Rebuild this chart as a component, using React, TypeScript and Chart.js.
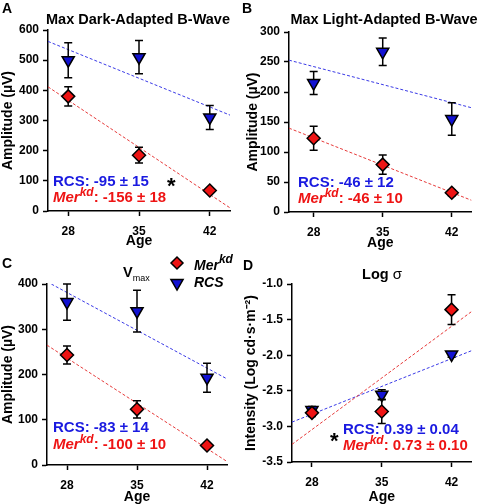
import React, { useEffect, useRef } from 'react';
import { Chart, registerables } from 'chart.js';

Chart.register(...registerables);

// ---------- data ----------
const ages = [28, 35, 42];

// Panel A: Max Dark-Adapted B-Wave (µV)
const aRcs = [500, 510, 310];
const aRcsErr = [58, 55, 40];
const aMer = [380, 185, 68];
const aMerErr = [32, 26, 6];

// Panel B: Max Light-Adapted B-Wave (µV)
const bRcs = [215, 267, 155];
const bRcsErr = [19, 23, 27];
const bMer = [123, 79, 32];
const bMerErr = [20, 16, 5];

// Panel C: Vmax (µV)
const cRcs = [360, 340, 193];
const cRcsErr = [40, 46, 32];
const cMer = [243, 123, 43];
const cMerErr = [20, 19, 5];

// Panel D: Log sigma (Log cd·s·m-2)
const dRcs = [-2.77, -2.555, -1.99];
const dRcsErr = [0.05, 0.07, 0.04];
const dMer = [-2.81, -2.79, -1.36];
const dMerErr = [0.05, 0.17, 0.21];

const slopeLabelsRcs = ['RCS: -95 ± 15', 'RCS: -46 ± 12', 'RCS: -83 ± 14', 'RCS: 0.39 ± 0.04'];
const slopeLabelsMer = [': -156 ± 18', ': -46 ± 10', ': -100 ± 10', ': 0.73 ± 0.10'];

// ---------- styles ----------
const FONT = "'Liberation Sans', Arial, sans-serif";
const BLUE = '#1212d2';
const BLUE_TXT = '#1a1ae0';
const RED = '#ee1414';
const BLUE_LINE = '#3a3ae6';
const RED_LINE = '#e63a3a';

type Seg = { t: string; f: string; c: string; dy?: number };

function drawSegs(ctx: CanvasRenderingContext2D, segs: Seg[], x: number, y: number, align: 'left' | 'center' = 'left') {
  ctx.save();
  ctx.textBaseline = 'middle';
  ctx.textAlign = 'left';
  let total = 0;
  for (const s of segs) {
    ctx.font = s.f;
    total += ctx.measureText(s.t).width;
  }
  let cx = align === 'center' ? x - total / 2 : x;
  for (const s of segs) {
    ctx.font = s.f;
    ctx.fillStyle = s.c;
    ctx.fillText(s.t, cx, y + (s.dy || 0));
    cx += ctx.measureText(s.t).width;
  }
  ctx.restore();
}

function fit(xs: number[], ys: number[]) {
  const n = xs.length;
  const mx = xs.reduce((a, b) => a + b, 0) / n;
  const my = ys.reduce((a, b) => a + b, 0) / n;
  let sxy = 0, sxx = 0;
  for (let i = 0; i < n; i++) {
    sxy += (xs[i] - mx) * (ys[i] - my);
    sxx += (xs[i] - mx) * (xs[i] - mx);
  }
  const m = sxy / sxx;
  return (x: number) => my + m * (x - mx);
}

type PanelCfg = {
  idx: number;
  left: number;
  top: number;
  letter: string;
  letterPos: [number, number];
  title: Seg[];
  titlePos: [number, number];
  titleAlign: 'left' | 'center';
  yMin: number;
  yMax: number;
  yStep: number;
  yDec: number;
  xMin: number;
  xMax: number;
  yTitle: string;
  area: { left: number; right: number; top: number; bottom: number };
  yTitleX: number;
  xTitleY: number;
  rcs: number[];
  rcsErr: number[];
  mer: number[];
  merErr: number[];
  labelX: number;
  rcsLabelY: number;
  merLabelY: number;
  star?: [number, number];
  legend?: boolean;
};

const W = 240;
const H = 252;

const titleFont = `bold 14.5px ${FONT}`;

const panels: PanelCfg[] = [
  {
    idx: 0, left: 0, top: 0, letter: 'A', letterPos: [2, 9],
    title: [{ t: 'Max Dark-Adapted B-Wave', f: titleFont, c: '#000' }], titlePos: [138, 20], titleAlign: 'center',
    yMin: 0, yMax: 600, yStep: 100, yDec: 0, xMin: 26, xMax: 44,
    yTitle: 'Amplitude (µV)',
    area: { left: 48, right: 230, top: 30, bottom: 211 },
    yTitleX: 8, xTitleY: 241,
    rcs: aRcs, rcsErr: aRcsErr, mer: aMer, merErr: aMerErr,
    labelX: 53, rcsLabelY: 182, merLabelY: 198, star: [172, 187],
  },
  {
    idx: 1, left: 240, top: 0, letter: 'B', letterPos: [2, 9],
    title: [{ t: 'Max Light-Adapted B-Wave', f: titleFont, c: '#000' }], titlePos: [144, 20], titleAlign: 'center',
    yMin: 0, yMax: 300, yStep: 50, yDec: 0, xMin: 25.5, xMax: 44,
    yTitle: 'Amplitude (µV)',
    area: { left: 49, right: 235, top: 32, bottom: 212 },
    yTitleX: 13, xTitleY: 243,
    rcs: bRcs, rcsErr: bRcsErr, mer: bMer, merErr: bMerErr,
    labelX: 58, rcsLabelY: 183, merLabelY: 199,
  },
  {
    idx: 2, left: 0, top: 252, letter: 'C', letterPos: [2, 12],
    title: [
      { t: 'V', f: titleFont, c: '#000' },
      { t: 'max', f: `9px ${FONT}`, c: '#000', dy: 6 },
    ],
    titlePos: [123, 21], titleAlign: 'left',
    yMin: 0, yMax: 400, yStep: 100, yDec: 0, xMin: 26, xMax: 44,
    yTitle: 'Amplitude (µV)',
    area: { left: 47, right: 227, top: 32, bottom: 213 },
    yTitleX: 8, xTitleY: 245,
    rcs: cRcs, rcsErr: cRcsErr, mer: cMer, merErr: cMerErr,
    labelX: 53, rcsLabelY: 176, merLabelY: 193, legend: true,
  },
  {
    idx: 3, left: 240, top: 252, letter: 'D', letterPos: [3, 14],
    title: [
      { t: 'Log ', f: titleFont, c: '#000' },
      { t: 'σ', f: `15px ${FONT}`, c: '#000' },
    ],
    titlePos: [142, 23], titleAlign: 'center',
    yMin: -3.5, yMax: -1.0, yStep: 0.5, yDec: 1, xMin: 26, xMax: 44,
    yTitle: 'Intensity (Log cd·s·m⁻²)',
    area: { left: 52, right: 232, top: 32, bottom: 210 },
    yTitleX: 11, xTitleY: 245,
    rcs: dRcs, rcsErr: dRcsErr, mer: dMer, merErr: dMerErr,
    labelX: 103, rcsLabelY: 178, merLabelY: 194, star: [95, 190],
  },
];

function drawDiamond(ctx: CanvasRenderingContext2D, x: number, y: number, r: number) {
  ctx.beginPath();
  ctx.moveTo(x - r, y);
  ctx.lineTo(x, y - r);
  ctx.lineTo(x + r, y);
  ctx.lineTo(x, y + r);
  ctx.closePath();
  ctx.fillStyle = RED;
  ctx.fill();
  ctx.lineWidth = 1.5;
  ctx.strokeStyle = '#000';
  ctx.stroke();
}

function drawTriDown(ctx: CanvasRenderingContext2D, x: number, y: number, r: number) {
  const s = r * Math.sin(Math.PI / 3);
  ctx.beginPath();
  ctx.moveTo(x, y + r);
  ctx.lineTo(x + s, y - r / 2);
  ctx.lineTo(x - s, y - r / 2);
  ctx.closePath();
  ctx.fillStyle = BLUE;
  ctx.fill();
  ctx.lineWidth = 1.5;
  ctx.strokeStyle = '#000';
  ctx.stroke();
}

function Panel({ cfg }: { cfg: PanelCfg }) {
  const ref = useRef<HTMLCanvasElement | null>(null);
  useEffect(() => {
    if (!ref.current) return;
    const fr = fit(ages, cfg.rcs);
    const fm = fit(ages, cfg.mer);
    const padBottom = 0;
    const xBoxH = H - cfg.area.bottom - padBottom;

    const errPlugin = {
      id: 'errbars' + cfg.idx,
      beforeDatasetDraw(chart: any, args: any) {
        const ds = chart.data.datasets[args.index] as any;
        if (!ds.errs) return;
        const ctx = chart.ctx as CanvasRenderingContext2D;
        const xs = chart.scales.x;
        const ys = chart.scales.y;
        ctx.save();
        ctx.strokeStyle = '#000';
        ctx.lineWidth = 1.5;
        ds.data.forEach((p: any, i: number) => {
          const e = ds.errs[i];
          if (!e) return;
          const px = xs.getPixelForValue(p.x);
          const y1 = ys.getPixelForValue(p.y + e);
          const y2 = ys.getPixelForValue(p.y - e);
          ctx.beginPath();
          ctx.moveTo(px, y1);
          ctx.lineTo(px, y2);
          ctx.moveTo(px - 4, y1);
          ctx.lineTo(px + 4, y1);
          ctx.moveTo(px - 4, y2);
          ctx.lineTo(px + 4, y2);
          ctx.stroke();
        });
        ctx.restore();
      },
    };

    const textPlugin = {
      id: 'texts' + cfg.idx,
      afterDraw(chart: any) {
        const ctx = chart.ctx as CanvasRenderingContext2D;
        drawSegs(ctx, [{ t: cfg.letter, f: `bold 14px ${FONT}`, c: '#000' }], cfg.letterPos[0], cfg.letterPos[1]);
        drawSegs(ctx, cfg.title, cfg.titlePos[0], cfg.titlePos[1], cfg.titleAlign);
        const lf = `bold 15px ${FONT}`;
        drawSegs(ctx, [{ t: slopeLabelsRcs[cfg.idx], f: lf, c: BLUE_TXT }], cfg.labelX, cfg.rcsLabelY);
        drawSegs(ctx, [
          { t: 'Mer', f: `italic bold 15px ${FONT}`, c: RED },
          { t: 'kd', f: `italic bold 12px ${FONT}`, c: RED, dy: -5 },
          { t: slopeLabelsMer[cfg.idx], f: lf, c: RED },
        ], cfg.labelX, cfg.merLabelY);
        if (cfg.star) {
          drawSegs(ctx, [{ t: '*', f: `bold 22px ${FONT}`, c: '#000' }], cfg.star[0] - 5, cfg.star[1]);
        }
        if (cfg.legend) {
          drawDiamond(ctx, 177, 11, 6);
          drawTriDown(ctx, 177, 31, 7);
          drawSegs(ctx, [
            { t: 'Mer', f: `italic bold 14px ${FONT}`, c: '#000' },
            { t: 'kd', f: `italic bold 12px ${FONT}`, c: '#000', dy: -6 },
          ], 194, 14);
          drawSegs(ctx, [{ t: 'RCS', f: `italic bold 14px ${FONT}`, c: '#000' }], 194, 31);
        }
      },
    };

    const chart = new Chart(ref.current, {
      type: 'scatter',
      data: {
        datasets: [
          {
            type: 'scatter',
            data: ages.map((a, i) => ({ x: a, y: cfg.mer[i] })),
            errs: cfg.merErr,
            pointStyle: 'rectRot',
            pointRadius: 6.5,
            backgroundColor: RED,
            borderColor: '#000',
            borderWidth: 1.5,
          } as any,
          {
            type: 'scatter',
            data: ages.map((a, i) => ({ x: a, y: cfg.rcs[i] })),
            errs: cfg.rcsErr,
            pointStyle: 'triangle',
            rotation: 180,
            pointRadius: 7,
            backgroundColor: BLUE,
            borderColor: '#000',
            borderWidth: 1.5,
          } as any,
          {
            type: 'line',
            data: [cfg.xMin, cfg.xMax].map((x) => ({ x, y: fm(x) })),
            borderColor: RED_LINE,
            borderWidth: 1,
            borderDash: [3, 2],
            pointRadius: 0,
            fill: false,
          } as any,
          {
            type: 'line',
            data: [cfg.xMin, cfg.xMax].map((x) => ({ x, y: fr(x) })),
            borderColor: BLUE_LINE,
            borderWidth: 1,
            borderDash: [3, 2],
            pointRadius: 0,
            fill: false,
          } as any,
        ],
      },
      options: {
        responsive: false,
        animation: false,
        devicePixelRatio: 1,
        events: [],
        layout: {
          padding: { left: 0, top: cfg.area.top, right: W - cfg.area.right, bottom: padBottom },
        },
        plugins: { legend: { display: false }, tooltip: { enabled: false }, title: { display: false } },
        scales: {
          x: {
            type: 'linear',
            min: cfg.xMin,
            max: cfg.xMax,
            afterBuildTicks: (s: any) => {
              s.ticks = ages.map((v) => ({ value: v }));
            },
            afterFit: (s: any) => {
              s.height = xBoxH;
            },
            ticks: {
              color: '#000',
              font: { family: FONT, size: 12, weight: 'bold' },
              padding: 8,
              maxRotation: 0,
              autoSkip: false,
              callback: (v: any) => String(v),
            },
            grid: { display: true, drawOnChartArea: false, drawTicks: true, tickLength: 5, tickWidth: 1.5, tickColor: '#000', color: '#000' },
            border: { display: true, color: '#000', width: 1.5 },
            title: {
              display: true,
              text: 'Age',
              color: '#000',
              font: { family: FONT, size: 14, weight: 'bold', lineHeight: 1 },
              padding: { top: 0, bottom: H - cfg.xTitleY - 7 },
            },
          },
          y: {
            type: 'linear',
            min: cfg.yMin,
            max: cfg.yMax,
            afterFit: (s: any) => {
              s.width = cfg.area.left;
            },
            ticks: {
              stepSize: cfg.yStep,
              color: '#000',
              font: { family: FONT, size: 12, weight: 'bold' },
              padding: 4,
              callback: (v: any) => Number(v).toFixed(cfg.yDec),
            },
            grid: { display: true, drawOnChartArea: false, drawTicks: true, tickLength: 5, tickWidth: 1.5, tickColor: '#000', color: '#000' },
            border: { display: true, color: '#000', width: 1.5 },
            title: {
              display: true,
              text: cfg.yTitle,
              color: '#000',
              font: { family: FONT, size: 14, weight: 'bold', lineHeight: 1 },
              padding: { top: cfg.yTitleX - 7, bottom: 0 },
            },
          },
        },
      } as any,
      plugins: [errPlugin, textPlugin],
    });
    return () => chart.destroy();
  }, [cfg]);
  return (
    <canvas
      ref={ref}
      width={W}
      height={H}
      style={{ position: 'absolute', left: cfg.left, top: cfg.top, width: W, height: H }}
    />
  );
}

export default function App() {
  return (
    <div style={{ position: 'absolute', left: 0, top: 0, width: 480, height: 504, background: '#fff' }}>
      {panels.map((p) => (
        <Panel key={p.idx} cfg={p} />
      ))}
    </div>
  );
}
